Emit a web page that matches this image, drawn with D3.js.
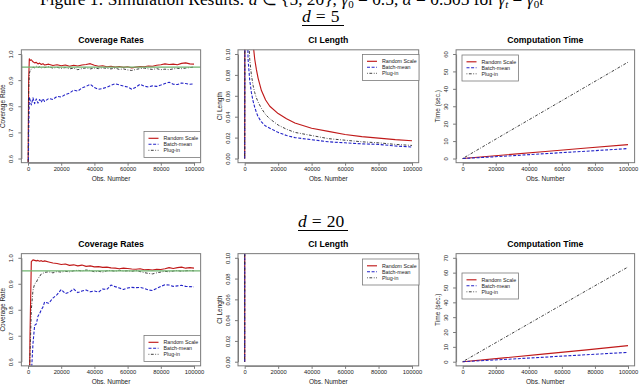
<!DOCTYPE html>
<html>
<head>
<meta charset="utf-8">
<script src="https://cdn.jsdelivr.net/npm/d3@7"></script>
<style>
  html, body { margin: 0; padding: 0; background: #fff; }
  svg { display: block; }
</style>
</head>
<body>
<svg id="fig" width="640" height="386"></svg>
<script>
// ---- data ---------------------------------------------------------------
const seriesNames = ['Random Scale', 'Batch-mean', 'Plug-in'];
const xTicks = [0, 20000, 40000, 60000, 80000, 100000];

// coverage rates (both d)
const obsCov = [0, 400, 800, 1200, 2000, 3000, 4000, 5000, 6000, 7000, 8000, 9000,
  10000, 12500, 15000, 17500, 20000, 22500, 25000, 27500, 30000, 32500, 35000, 37500,
  40000, 42500, 45000, 47500, 50000, 52500, 55000, 57500, 60000, 62500, 65000, 67500,
  70000, 72500, 75000, 77500, 80000, 82500, 85000, 87500, 90000, 92500, 95000, 97500, 100000];
const covRS5 = [0.50, 0.90, 0.982, 0.975, 0.978, 0.970, 0.966, 0.968, 0.962, 0.965, 0.960, 0.963,
  0.958, 0.961, 0.956, 0.959, 0.955, 0.958, 0.953, 0.957, 0.954, 0.958, 0.960, 0.963,
  0.957, 0.953, 0.955, 0.951, 0.953, 0.950, 0.952, 0.949, 0.951, 0.947, 0.950, 0.952,
  0.951, 0.954, 0.953, 0.957, 0.959, 0.962, 0.960, 0.961, 0.959, 0.964, 0.966, 0.962, 0.961];
const covBM5 = [0.40, 0.70, 0.835, 0.825, 0.805, 0.832, 0.810, 0.828, 0.812, 0.826, 0.815, 0.829,
  0.818, 0.830, 0.826, 0.838, 0.835, 0.845, 0.850, 0.862, 0.858, 0.870, 0.876, 0.884,
  0.872, 0.865, 0.868, 0.873, 0.880, 0.886, 0.882, 0.877, 0.874, 0.865, 0.873, 0.884,
  0.877, 0.874, 0.878, 0.876, 0.881, 0.887, 0.892, 0.884, 0.883, 0.889, 0.887, 0.884, 0.886];
const covPI5 = [0.50, 0.85, 0.925, 0.935, 0.942, 0.950, 0.947, 0.953, 0.948, 0.951, 0.946, 0.950,
  0.948, 0.951, 0.946, 0.949, 0.945, 0.948, 0.943, 0.946, 0.940, 0.944, 0.947, 0.943,
  0.946, 0.944, 0.947, 0.945, 0.943, 0.946, 0.941, 0.943, 0.939, 0.937, 0.941, 0.944,
  0.946, 0.943, 0.941, 0.944, 0.940, 0.942, 0.940, 0.943, 0.945, 0.944, 0.946, 0.948, 0.950];
const covRS20 = [0.30, 0.35, 0.45, 0.70, 0.985, 0.992, 0.990, 0.988, 0.990, 0.987, 0.989, 0.986,
  0.988, 0.984, 0.980, 0.978, 0.974, 0.976, 0.971, 0.973, 0.969, 0.972, 0.967, 0.969,
  0.965, 0.966, 0.963, 0.964, 0.961, 0.960, 0.958, 0.960, 0.959, 0.957, 0.956, 0.958,
  0.954, 0.955, 0.953, 0.956, 0.955, 0.958, 0.962, 0.959, 0.962, 0.964, 0.960, 0.962, 0.960];
const covBM20 = [0.30, 0.30, 0.35, 0.40, 0.55, 0.67, 0.740, 0.745, 0.775, 0.785, 0.800, 0.810,
  0.830, 0.825, 0.845, 0.858, 0.878, 0.862, 0.868, 0.880, 0.866, 0.872, 0.876, 0.869,
  0.872, 0.868, 0.880, 0.878, 0.895, 0.889, 0.884, 0.878, 0.884, 0.886, 0.885, 0.886,
  0.882, 0.876, 0.874, 0.882, 0.890, 0.896, 0.895, 0.890, 0.892, 0.894, 0.890, 0.889, 0.888];
const covPI20 = [0.30, 0.35, 0.45, 0.62, 0.80, 0.875, 0.900, 0.905, 0.920, 0.928, 0.938, 0.940,
  0.944, 0.946, 0.942, 0.947, 0.945, 0.948, 0.946, 0.950, 0.952, 0.949, 0.953, 0.951,
  0.946, 0.948, 0.945, 0.950, 0.951, 0.948, 0.952, 0.949, 0.950, 0.948, 0.951, 0.947,
  0.943, 0.940, 0.938, 0.942, 0.945, 0.948, 0.946, 0.949, 0.951, 0.948, 0.950, 0.951, 0.950];
const covTicks = [0.6, 0.7, 0.8, 0.9, 1.0];
const covTarget = 0.95;

// CI length
const obsCI = [0, 500, 1000, 2000, 3000, 4000, 5000, 6000, 7000, 8000, 10000, 12500,
  15000, 20000, 25000, 30000, 40000, 50000, 60000, 70000, 80000, 90000, 100000];
const ciRS5 = [0, 0.9, 0.5, 0.28, 0.18, 0.135, 0.11, 0.095, 0.085, 0.077, 0.065, 0.056,
  0.050, 0.043, 0.038, 0.034, 0.029, 0.026, 0.023, 0.021, 0.0195, 0.018, 0.017];
const ciBM5 = [0, 0.6, 0.2, 0.095, 0.075, 0.063, 0.055, 0.049, 0.044, 0.040, 0.035, 0.031,
  0.029, 0.025, 0.022, 0.020, 0.018, 0.016, 0.015, 0.014, 0.0135, 0.012, 0.011];
const ciPI5 = [0, 0.7, 0.3, 0.13, 0.095, 0.080, 0.070, 0.063, 0.058, 0.054, 0.048, 0.042,
  0.038, 0.032, 0.028, 0.025, 0.022, 0.019, 0.0175, 0.016, 0.015, 0.0135, 0.0125];
const obsCI20 = [0, 500, 5000, 20000, 50000, 100000];
const ciRS20 = [0, 3.1, 1.2, 0.62, 0.41, 0.30];
const ciBM20 = [0, 2.4, 0.9, 0.45, 0.29, 0.21];
const ciPI20 = [0, 2.7, 1.0, 0.52, 0.34, 0.25];
const ciTicks = [0, 0.02, 0.04, 0.06, 0.08, 0.10];

// computation time (sec.)
const obsTime = [0, 25000, 50000, 75000, 100000];
const timeRS5 = [0, 2.0, 4.0, 6.0, 8.0];
const timeBM5 = [0, 1.3, 2.8, 4.2, 5.7];
const timePI5 = [0, 13.9, 27.7, 41.5, 55.3];
const timeRS20 = [0, 2.6, 5.3, 8.0, 10.8];
const timeBM20 = [0, 1.5, 3.1, 4.7, 6.3];
const timePI20 = [0, 16.0, 32.0, 48.0, 63.8];
const timeTicks5 = [0, 10, 20, 30, 40, 50, 60];
const timeTicks20 = [0, 10, 20, 30, 40, 50, 60, 70];

// ---- layout ---------------------------------------------------------------
const SANS = '"Liberation Sans", Arial, sans-serif';
const SERIF = '"Liberation Serif", "Times New Roman", serif';
const BOX = '#7a7a7a', INK = '#222';
const STY = [
  { color: '#c01a1a', dash: null, w: 1.15 },
  { color: '#2424c8', dash: '3,1.6', w: 1.1 },
  { color: '#2a2a2a', dash: '0.8,1.6,2.8,1.6', w: 0.9 },
];
// pixel positions of first/last tick for each column and row
const COLS = [[28, 194], [244.7, 412], [462.7, 628]];
const ROWS = [[54, 158.5], [257.8, 361.7]];

const PANELS = [
  { c: 0, r: 0, title: 'Coverage Rates', ylab: 'Coverage Rate', xs: obsCov, ys: [covRS5, covBM5, covPI5],
    ticks: covTicks, fmt: d3.format('.1f'), ref: covTarget, leg: [144, 131.5] },
  { c: 1, r: 0, title: 'CI Length', ylab: 'CI Length', xs: obsCI, ys: [ciRS5, ciBM5, ciPI5],
    ticks: ciTicks, fmt: d3.format('.2f'), leg: [362.5, 54.5] },
  { c: 2, r: 0, title: 'Computation Time', ylab: 'Time (sec.)', xs: obsTime, ys: [timeRS5, timeBM5, timePI5],
    ticks: timeTicks5, fmt: d3.format('d'), leg: [462, 55] },
  { c: 0, r: 1, title: 'Coverage Rates', ylab: 'Coverage Rate', xs: obsCov, ys: [covRS20, covBM20, covPI20],
    ticks: covTicks, fmt: d3.format('.1f'), ref: covTarget, leg: [144, 335.5] },
  { c: 1, r: 1, title: 'CI Length', ylab: 'CI Length', xs: obsCI20, ys: [ciRS20, ciBM20, ciPI20],
    ticks: ciTicks, fmt: d3.format('.2f'), leg: [362.5, 259] },
  { c: 2, r: 1, title: 'Computation Time', ylab: 'Time (sec.)', xs: obsTime, ys: [timeRS20, timeBM20, timePI20],
    ticks: timeTicks20, fmt: d3.format('d'), leg: [462, 273] },
];

const svg = d3.select('#fig');

// caption line, cut off at the top edge as in the source page
function drawTitle() {
  const t = svg.append('text').attr('x', 40).attr('y', 5)
    .attr('font-family', SERIF).attr('font-size', 17.4).attr('fill', '#000');
  const parts = [
    ['Figure 1: Simulation Results: '], ['d', 'i'], [' ∈ {5, 20}, '], ['γ', 'i'], ['0', 'sub'],
    [' = 0.5, '], ['α', 'i'], [' = 0.505 for '], ['γ', 'i'], ['t', 'isub'], [' = '],
    ['γ', 'i'], ['0', 'sub'], ['t', 'i'], ['−α', 'sup']
  ];
  let shift = 0;
  parts.forEach(([s, k]) => {
    const ts = t.append('tspan').text(s);
    if (k && k.includes('i')) ts.attr('font-style', 'italic');
    let want = 0;
    if (k && k.includes('sub')) { want = 3; ts.attr('font-size', 11); }
    if (k === 'sup') { want = -7; ts.attr('font-size', 11); }
    if (want !== shift) { ts.attr('dy', want - shift); shift = want; }
  });
}

function drawHeading(label, x0, base, x1) {
  const t = svg.append('text').attr('x', x0).attr('y', base)
    .attr('font-family', SERIF).attr('font-size', 17.5).attr('fill', '#000');
  t.append('tspan').attr('font-style', 'italic').text('d');
  t.append('tspan').attr('dx', 5).text('=');
  t.append('tspan').attr('dx', 5).text(label);
  svg.append('line').attr('x1', x0).attr('x2', x1).attr('y1', base + 4).attr('y2', base + 4)
    .attr('stroke', '#000').attr('stroke-width', 1);
}

function drawPanel(p, i) {
  const [xa, xb] = COLS[p.c], [ya, yb] = ROWS[p.r];
  const lo = d3.min(p.ticks), hi = d3.max(p.ticks), pad = (hi - lo) * 0.04;
  const x = d3.scaleLinear().domain([0, 100000]).range([xa, xb]);
  const y = d3.scaleLinear().domain([lo, hi]).range([yb, ya]);
  const L = x(-4000), R = x(104000), T = y(hi + pad), B = y(lo - pad);
  const g = svg.append('g');

  svg.append('clipPath').attr('id', 'clip' + i).append('rect')
    .attr('x', L).attr('y', T).attr('width', R - L).attr('height', B - T);

  // series
  const line = d3.line().x(d => x(d[0])).y(d => y(d[1]));
  const gl = g.append('g').attr('clip-path', `url(#clip${i})`);
  p.ys.forEach((vals, k) => {
    gl.append('path').datum(d3.zip(p.xs, vals)).attr('d', line)
      .attr('fill', 'none').attr('stroke', STY[k].color).attr('stroke-width', STY[k].w)
      .attr('stroke-dasharray', STY[k].dash).attr('stroke-linejoin', 'round');
  });
  if (p.ref != null) {
    gl.append('line').attr('x1', L).attr('x2', R).attr('y1', y(p.ref)).attr('y2', y(p.ref))
      .attr('stroke', '#6fb46f').attr('stroke-width', 1.2);
  }

  // box
  g.append('rect').attr('x', L).attr('y', T).attr('width', R - L).attr('height', B - T)
    .attr('fill', 'none').attr('stroke', BOX).attr('stroke-width', 1);

  // axes
  const ax = g.append('g').attr('transform', `translate(0,${B})`)
    .call(d3.axisBottom(x).tickValues(xTicks).tickFormat(d3.format('d')).tickSize(3).tickSizeOuter(0).tickPadding(1.5));
  const ay = g.append('g').attr('transform', `translate(${L},0)`)
    .call(d3.axisLeft(y).tickValues(p.ticks).tickFormat(p.fmt).tickSize(3).tickSizeOuter(0));
  [ax, ay].forEach(a => {
    a.select('.domain').attr('stroke', BOX);
    a.selectAll('.tick line').attr('stroke', BOX);
    a.selectAll('text').attr('font-family', SANS).attr('font-size', 5.8).attr('fill', INK);
  });
  ay.selectAll('text').attr('x', null).attr('dy', null).attr('text-anchor', 'middle')
    .attr('transform', 'translate(-8,0) rotate(-90)');

  // labels
  const midX = (L + R) / 2, midY = (T + B) / 2;
  g.append('text').attr('x', midX).attr('y', T - 6.5).attr('text-anchor', 'middle')
    .attr('font-family', SANS).attr('font-weight', 'bold').attr('font-size', 8.7).attr('fill', '#000').text(p.title);
  g.append('text').attr('x', midX).attr('y', B + 18.5).attr('text-anchor', 'middle')
    .attr('font-family', SANS).attr('font-size', 6.5).attr('fill', INK).text('Obs. Number');
  g.append('text').attr('transform', `translate(${L - 16.5},${midY}) rotate(-90)`).attr('text-anchor', 'middle')
    .attr('font-family', SANS).attr('font-size', 6.5).attr('fill', INK).text(p.ylab);

  // legend
  const [lx, ly] = p.leg;
  const lg = g.append('g').attr('transform', `translate(${lx},${ly})`);
  lg.append('rect').attr('width', 56.5).attr('height', 26).attr('fill', '#fff')
    .attr('stroke', BOX).attr('stroke-width', 0.8);
  seriesNames.forEach((name, k) => {
    const cy = 6.8 + k * 6;
    lg.append('line').attr('x1', 4.5).attr('x2', 14.5).attr('y1', cy).attr('y2', cy)
      .attr('stroke', STY[k].color).attr('stroke-width', STY[k].w).attr('stroke-dasharray', STY[k].dash);
    lg.append('text').attr('x', 19.5).attr('y', cy).attr('dy', '0.35em')
      .attr('font-family', SANS).attr('font-size', 5.3).attr('fill', INK).text(name);
  });
}

drawTitle();
drawHeading('5', 302, 21.5, 344);
drawHeading('20', 298, 226.5, 348);
PANELS.forEach(drawPanel);
</script>
</body>
</html>
